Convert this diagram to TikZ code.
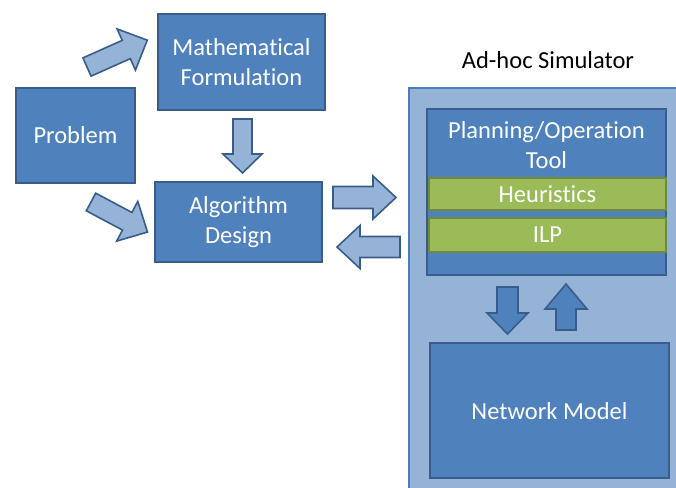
\documentclass[tikz,border=0pt]{standalone}
\usepackage{fontspec}
\setmainfont{Carlito}[Ligatures={NoCommon}]
\definecolor{boxblue}{HTML}{4F81BD}
\definecolor{boxedge}{HTML}{385D8A}
\definecolor{lightblue}{HTML}{95B3D7}
\definecolor{simedge}{HTML}{4A7EBB}
\definecolor{leafgreen}{HTML}{9BBB59}
\definecolor{greenedge}{HTML}{71893F}
\tikzset{
  pics/barrow/.style n args={4}{code={%
    % block arrow along +x: length, shaft width, head width, head length
    \draw[pic actions] (0,-#2/2) -- (#1-#4,-#2/2) -- (#1-#4,-#3/2) -- (#1,0)
      -- (#1-#4,#3/2) -- (#1-#4,#2/2) -- (0,#2/2) -- cycle;}},
  lightarrow/.style={fill=lightblue, draw=boxedge, line width=1.6pt, line join=miter},
  darkarrow/.style={fill=boxblue, draw=boxedge, line width=1.6pt, line join=miter},
  bluebox/.style={fill=boxblue, draw=boxedge, line width=1.5pt},
  greenbar/.style={fill=leafgreen, draw=greenedge, line width=1.5pt},
  label/.style={text=white, align=center, inner sep=0pt},
  bigtext/.style={font=\fontsize{24.5}{29.5}\selectfont},
}
\begin{document}
\begin{tikzpicture}[x=1pt,y=-1pt,bigtext]
\useasboundingbox (0,0) rectangle (676,487);
\clip (0,0) rectangle (676,487);

% left-hand boxes
\draw[bluebox] (16,88) rectangle (135,183);
\node[label] (problem) at (75.5,135.5) {Problem};
\draw[bluebox] (158,14) rectangle (325,110);
\node[label] (math) at (241.5,62) {Mathematical\\Formulation};
\draw[bluebox] (155,182) rectangle (322,262);
\node[label] (algo) at (238.5,222) {Algorithm\\Design};

% simulator container
\draw[fill=lightblue, draw=simedge, line width=1.5pt] (409,88) rectangle (690,500);
\node[inner sep=0pt] (simtitle) at (548,60) {Ad-hoc Simulator};

\draw[bluebox] (427,109) rectangle (666,275);
\node[label] (tool) at (546.5,145) {Planning/Operation\\Tool};
\draw[greenbar] (429,178) rectangle (666,210);
\node[label] (heur) at (547.5,194) {Heuristics};
\draw[greenbar] (429,218) rectangle (666,252);
\node[label] (ilp) at (547.5,235) {ILP};

\draw[bluebox] (430,343) rectangle (669,478);
\node[label] (net) at (549.5,411) {Network Model};

% block arrows
\pic[lightarrow, rotate=24] (pm) at (87,67) {barrow={66}{20}{45}{23}};
\pic[lightarrow, rotate=-28] (pa) at (91,202) {barrow={64}{20}{45}{23}};
\pic[lightarrow, rotate=-90] (ma) at (242.5,119) {barrow={54}{19}{39}{19}};
\pic[lightarrow] (as) at (333,197.5) {barrow={63}{22}{43}{23}};
\pic[lightarrow, rotate=180] (sa) at (400,247) {barrow={63}{21}{43}{23}};
\pic[darkarrow, rotate=-90] (tn) at (507.5,287) {barrow={47}{21}{41}{21}};
\pic[darkarrow, rotate=90] (nt) at (566,330) {barrow={46}{20}{42}{25}};
\end{tikzpicture}
\end{document}
